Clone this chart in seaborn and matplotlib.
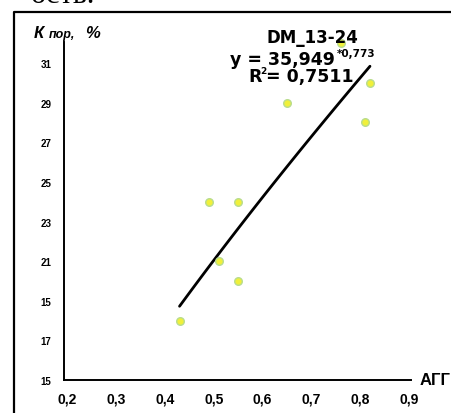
import numpy as np
import pandas as pd
import matplotlib
matplotlib.use("Agg")
import matplotlib.pyplot as plt
import seaborn as sns
from matplotlib.lines import Line2D

# ---- data ----
agg = [0.43, 0.55, 0.51, 0.49, 0.55, 0.65, 0.81, 0.82, 0.76]
kpor = [18, 20, 21, 24, 24, 29, 28, 30, 32]
coef_a = 35.949
coef_b = 0.773
r2_text = "0,7511"
series_name = "DM_13-24"
x_ticks = [0.2, 0.3, 0.4, 0.5, 0.6, 0.7, 0.8, 0.9]
x_ticklabels = ["0,2", "0,3", "0,4", "0,5", "0,6", "0,7", "0,8", "0,9"]
y_ticks = [15, 17, 19, 21, 23, 25, 27, 29, 31]
y_ticklabels = ["15", "17", "15", "21", "23", "25", "27", "29", "31"]

df = pd.DataFrame({"agg": agg, "kpor": kpor})
fit_x = np.linspace(min(agg), max(agg), 100)
fit_df = pd.DataFrame({"agg": fit_x, "kpor": coef_a * fit_x ** coef_b})

sns.set_style("white")
plt.rcParams["text.color"] = "black"
plt.rcParams["xtick.color"] = "black"
plt.rcParams["ytick.color"] = "black"
plt.rcParams["axes.labelcolor"] = "black"

W, H = 452, 414
fig = plt.figure(figsize=(W / 100, H / 100), dpi=100)
fig.patch.set_facecolor("white")

def fx(px):
    return px / W

def fy(py):
    return 1 - py / H

ax = fig.add_axes([fx(64), fy(381), fx(411) - fx(64), fy(43) - fy(381)])
ax.set_facecolor("white")

sns.lineplot(data=fit_df, x="agg", y="kpor", ax=ax, color="black", linewidth=2.0, zorder=2)
sns.scatterplot(data=df, x="agg", y="kpor", ax=ax, s=30, color="#f0f03a",
                edgecolor="#b8dc8e", linewidth=1.0, zorder=3, clip_on=False)

ax.set_xlim(0.1934, 0.904)
ax.set_ylim(15, 32.06)
ax.set_xticks(x_ticks)
ax.set_xticklabels(x_ticklabels, fontsize=10, fontweight="bold", family="Liberation Sans")
ax.set_yticks(y_ticks)
ax.set_yticklabels(y_ticklabels, fontsize=7, fontweight="bold", family="Liberation Sans")
ax.set_xlabel("")
ax.set_ylabel("")
for s in ["top", "right"]:
    ax.spines[s].set_visible(False)
for s in ["left", "bottom"]:
    ax.spines[s].set_color("black")
    ax.spines[s].set_linewidth(1.4)
ax.tick_params(axis="y", direction="out", length=3, width=1, pad=6, colors="black")
ax.tick_params(axis="x", direction="inout", length=3, width=1, pad=7, colors="black")

# outer frame (partially visible)
fig.add_artist(Line2D([fx(14), fx(14), fx(460)], [fy(420), fy(12.5), fy(12.5)],
                      color="black", linewidth=1.6, transform=fig.transFigure))

# cut-off serif text at very top
fig.text(fx(95), fy(3), "ость.", fontsize=22, family="Liberation Serif",
         ha="right", va="baseline", color="black")

# y axis label: К_пор, %
fig.text(fx(34), fy(38), "К", fontsize=12, fontweight="bold", fontstyle="italic",
         family="Liberation Sans", ha="left", va="baseline")
fig.text(fx(49), fy(38), "пор,", fontsize=9, fontweight="bold", fontstyle="italic",
         family="Liberation Sans", ha="left", va="baseline")
fig.text(fx(85), fy(38), "%", fontsize=12, fontweight="bold", fontstyle="italic",
         family="Liberation Sans", ha="left", va="baseline")

# x axis label
fig.text(fx(420), fy(385), "АГГ", fontsize=12, fontweight="bold",
         family="Liberation Sans", ha="left", va="baseline")

# annotation
fig.text(fx(312), fy(42.7), series_name, fontsize=12, fontweight="bold",
         family="DejaVu Sans", ha="center", va="baseline")
fig.text(fx(230), fy(65), "y = " + f"{coef_a:.3f}".replace(".", ","), fontsize=12.5,
         fontweight="bold", family="DejaVu Sans", ha="left", va="baseline")
fig.text(fx(337), fy(57), "*" + f"{coef_b:.3f}".replace(".", ","), fontsize=7.5,
         fontweight="bold", family="DejaVu Sans", ha="left", va="baseline")
fig.text(fx(248), fy(81.7), "R", fontsize=12.5, fontweight="bold",
         family="DejaVu Sans", ha="left", va="baseline")
fig.text(fx(260.5), fy(74), "2", fontsize=6.5, fontweight="bold",
         family="DejaVu Sans", ha="left", va="baseline")
fig.text(fx(266.5), fy(81.7), "= " + r2_text, fontsize=12.5, fontweight="bold",
         family="DejaVu Sans", ha="left", va="baseline")

fig.savefig("out.png", dpi=100)
